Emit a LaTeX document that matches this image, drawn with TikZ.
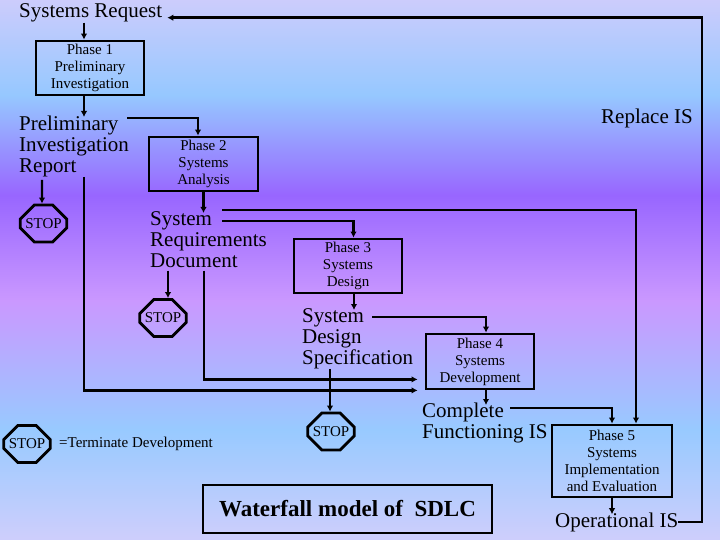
\documentclass[tikz,border=0pt]{standalone}
\usepackage{fontspec}
\setmainfont{Liberation Serif}
\usetikzlibrary{arrows.meta,calc,shapes.misc}
\definecolor{ctop}{RGB}{204,204,252}
\definecolor{cblueA}{RGB}{150,200,255}
\definecolor{cpurple}{RGB}{152,102,255}
\definecolor{cpink}{RGB}{202,152,255}
\definecolor{cblueB}{RGB}{152,202,255}
\definecolor{cbot}{RGB}{206,206,252}
\pgfdeclareverticalshading{bgshade}{100bp}{color(0bp)=(cbot); color(25bp)=(cbot); color(35.2bp)=(cblueB); color(47.2bp)=(cpink); color(56.9bp)=(cpurple); color(66.2bp)=(cblueA); color(75bp)=(ctop); color(100bp)=(ctop)}
\newcommand{\bst}{\rule{0pt}{15bp}}
\tikzset{
  bigtxt/.style={font=\fontsize{21bp}{21bp}\selectfont, inner sep=0pt, align=left},
  onetxt/.style={font=\fontsize{21bp}{21bp}\selectfont, inner sep=0pt, anchor=base west},
  phase/.style={draw, line width=2.8bp, inner sep=0pt, align=center, font=\fontsize{15bp}{17bp}\selectfont},
  stopsign/.style={chamfered rectangle, chamfered rectangle xsep=9bp, chamfered rectangle ysep=9bp, draw, line width=2.8bp, inner sep=0pt, minimum width=44bp, minimum height=37bp, font=\fontsize{15bp}{15bp}\selectfont},
  arr/.style={line width=2.4bp, -{Latex[length=6bp,width=6.5bp]}},
  ln/.style={line width=2.4bp}
}
\begin{document}
\begin{tikzpicture}[x=1bp,y=-1bp]
\useasboundingbox (0,0) rectangle (720,540);
\shade[shading=bgshade] (0,0) rectangle (720,540);

% phase boxes
\node[phase, minimum width=108bp, minimum height=54bp] (p1) at (90,68) {Phase 1\\Preliminary\\Investigation};
\node[phase, minimum width=109bp, minimum height=54bp] (p2) at (203.5,164) {Phase 2\\Systems\\Analysis};
\node[phase, minimum width=108bp, minimum height=54bp] (p3) at (348,266) {Phase 3\\Systems\\Design};
\node[phase, minimum width=108bp, minimum height=55bp] (p4) at (480,361.5) {Phase 4\\Systems\\Development};
\node[phase, minimum width=120bp, minimum height=72bp] (p5) at (612,461) {Phase 5\\Systems\\Implementation\\and Evaluation};

% texts
\node[onetxt] (sr) at (19,18) {Systems Request};
\node[onetxt] (rep) at (601,124) {Replace IS};
\node[onetxt] (ois) at (555,527) {Operational IS};
\node[bigtxt, anchor=north west] (pir) at (19,115) {\bst Preliminary\\Investigation\\Report};
\node[bigtxt, anchor=north west] (srd) at (150,210) {\bst System\\Requirements\\Document};
\node[bigtxt, anchor=north west] (sds) at (302,307) {\bst System\\Design\\Specification};
\node[bigtxt, anchor=north west] (cfi) at (422,402) {\bst Complete\\Functioning IS};

% stop signs
\node[stopsign] (s1) at (43.5,223.5) {STOP};
\node[stopsign] (s2) at (163,318) {STOP};
\node[stopsign] (s3) at (331,431.5) {STOP};
\node[stopsign] (s4) at (27,444) {STOP};
\node[font=\fontsize{15bp}{15bp}\selectfont, inner sep=0pt, anchor=base west] (leg) at (59,447) {=Terminate Development};

% title box
\node[draw, line width=2.8bp, minimum width=289bp, minimum height=48bp, inner sep=0pt, font=\fontsize{23bp}{23bp}\selectfont\bfseries] (wf) at (347.5,509) {Waterfall model of~~SDLC};

% port coordinates
\coordinate (p1in) at ([xshift=-6bp]p1.north);
\coordinate (p1out) at ([xshift=-6bp]p1.south);
\coordinate (p2in) at ([xshift=-5.5bp]p2.north);
\coordinate (p3in) at ([xshift=5.5bp]p3.north);
\coordinate (p3out) at ([xshift=6bp]p3.south);
\coordinate (p4in) at ([xshift=6bp]p4.north);
\coordinate (p4out) at ([xshift=6bp]p4.south);
\coordinate (p5inB) at ([xshift=24bp]p5.north);
\coordinate (s2in) at ([xshift=5bp]s2.north);
\coordinate (p4lA) at ([xshift=-7bp,yshift=11bp]p4.south west);
\coordinate (p4lB) at ([xshift=-7bp]p4.south west);
\coordinate (tr) at (702,17.7);

% connectors
\draw[arr] (p1in |- sr.south) -- (p1in);
\draw[arr] (p1out) -- ($(p1out |- pir.north)+(0,2)$);
\draw[arr] ($(pir.north west)+(108,3)$) -| (p2in);
\draw[arr] ($(s1.north |- pir.south)+(-1.5,3)$) -- ([xshift=-1.5bp]s1.north);
\draw[arr] (p1out |- pir.south) |- (p4lB);
\draw[arr] (p2.south) -- ($(p2.south |- srd.north)+(0,3)$);
\draw[arr] ($(srd.north west)+(72,0)$) -| (p5inB);
\draw[arr] ($(srd.north west)+(72,11)$) -| (p3in);
\draw[arr] ($(s2in |- srd.south)+(0,3)$) -- (s2in);
\draw[arr] ($(srd.south west)+(54,3)$) |- (p4lA);
\draw[arr] (p3out) -- ($(p3out |- sds.north)+(0,3)$);
\draw[arr] ($(sds.north west)+(70,10)$) -| (p4in);
\draw[arr] ($(s3.north |- sds.south)+(-1,0)$) -- ([xshift=-1bp]s3.north);
\draw[arr] (p4out) -- ($(p4out |- cfi.north)+(0,3)$);
\draw[arr] ($(cfi.north west)+(88,6)$) -| (p5.north);
\draw[arr] (p5.south) -- ($(p5.south |- ois.north)+(0,2)$);
\draw[arr, shorten >=5bp] (ois.east) -| (tr) -- (sr.east |- tr);
\end{tikzpicture}
\end{document}
